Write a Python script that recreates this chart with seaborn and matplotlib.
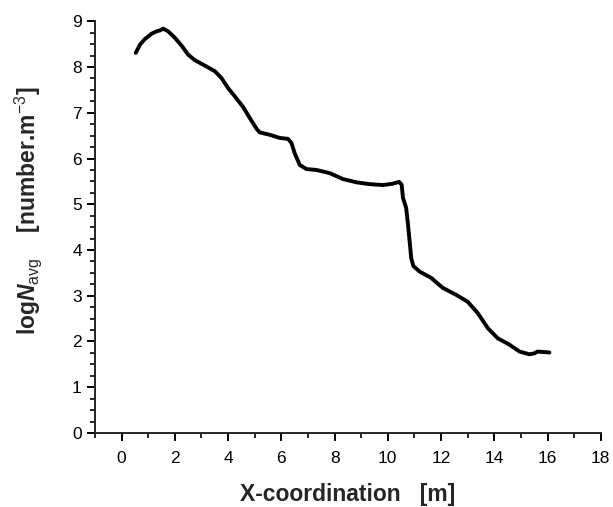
import matplotlib
matplotlib.use('Agg')
import matplotlib.pyplot as plt
import seaborn as sns
import pandas as pd
from matplotlib.ticker import MultipleLocator

#-------------------------------------------------
x_coord=[0.53, 0.69, 0.87, 1.13, 1.31, 1.44, 1.56, 1.75, 2.00, 2.25, 2.50, 2.75, 3.13,
         3.50, 3.75, 4.00, 4.25, 4.56, 4.81, 5.07, 5.19, 5.56, 5.94, 6.25, 6.38, 6.50,
         6.69, 6.94, 7.32, 7.82, 8.32, 8.82, 9.32, 9.82, 10.19, 10.42, 10.52, 10.57,
         10.69, 10.76, 10.82, 10.88, 10.96, 11.19, 11.63, 12.07, 12.57, 13.00, 13.38,
         13.76, 14.13, 14.57, 14.95, 15.32, 15.50, 15.63, 16.07]
log_n=[8.31, 8.49, 8.61, 8.73, 8.78, 8.80, 8.84, 8.78, 8.64, 8.47, 8.27, 8.15, 8.03,
       7.91, 7.76, 7.54, 7.36, 7.13, 6.89, 6.65, 6.57, 6.52, 6.45, 6.43, 6.34, 6.12,
       5.86, 5.77, 5.75, 5.68, 5.55, 5.48, 5.44, 5.42, 5.45, 5.49, 5.43, 5.14,
       4.92, 4.55, 4.19, 3.82, 3.65, 3.53, 3.39, 3.17, 3.02, 2.87, 2.62,
       2.29, 2.07, 1.93, 1.78, 1.72, 1.74, 1.78, 1.76]

df=pd.DataFrame({'x': x_coord, 'y': log_n})

#-------------------------------------------------
sns.set_style('ticks')
plt.rcParams['font.family']=['Liberation Sans', 'DejaVu Sans']
plt.rcParams['mathtext.fontset']='custom'
plt.rcParams['mathtext.rm']='Liberation Sans:bold'
plt.rcParams['mathtext.it']='Liberation Sans:italic:bold'
plt.rcParams['mathtext.sf']='Liberation Sans'

fig, ax=plt.subplots(figsize=(6.13, 5.07), dpi=100)
sns.lineplot(data=df, x='x', y='y', color='black', linewidth=2.8, sort=False, ax=ax)

ax.set_xlim(-1, 18)
ax.set_ylim(0, 9)
ax.xaxis.set_major_locator(MultipleLocator(2))
ax.xaxis.set_minor_locator(MultipleLocator(1))
ax.yaxis.set_major_locator(MultipleLocator(1))
ax.yaxis.set_minor_locator(MultipleLocator(0.25))
ax.tick_params(which='major', direction='out', length=6, width=1.4, labelsize=12.5, colors='black')
ax.tick_params(which='minor', direction='out', length=3.5, width=1.4)
ax.tick_params(axis='x', which='major', pad=7)
for s in ['left', 'bottom']:
    ax.spines[s].set_linewidth(1.4)
sns.despine(ax=ax)

ax.set_xlabel('X-coordination   [m]', fontsize=16.5, weight='bold', labelpad=12)
ax.set_ylabel(r'log$\mathit{N}_{\mathsf{avg}}$    [number.m$^{\mathsf{-3}}$]',
              fontsize=16.5, weight='bold')
ax.yaxis.set_label_coords(-0.1, 0.54)

plt.subplots_adjust(left=0.155, right=0.98, top=0.958, bottom=0.146)
plt.savefig('out.png', dpi=100)
plt.close()
